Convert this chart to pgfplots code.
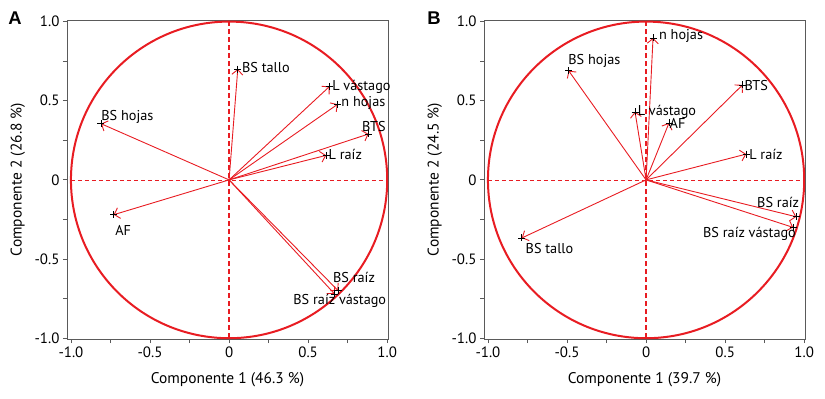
\documentclass[border=0pt]{standalone}
\usepackage{fontspec}
\setmainfont{PT Sans}
\newfontfamily\letterfont{Liberation Sans}
\usepackage{pgfplots}
\pgfplotsset{compat=1.18}
\usetikzlibrary{arrows.meta}
\definecolor{pcared}{RGB}{232,28,34}
\definecolor{framegray}{RGB}{90,90,90}
\tikzset{
  arr/.style={pcared, line width=0.9bp, -{Straight Barb[length=5bp,width=11bp,line width=0.9bp]}},
  lab/.style={font=\fontsize{14.3}{16}\selectfont, inner sep=1bp},
}
\pgfplotsset{
  pca/.style={
    scale only axis, width=321bp, height=319bp,
    xmin=-1.025, xmax=1.005, ymin=-1.005, ymax=1.01,
    clip=false,
    axis line style={framegray, line width=0.8bp},
    xtick={-1,-0.5,0,0.5,1}, ytick={-1,-0.5,0,0.5,1},
    xticklabels={-1.0,-0.5,0,0.5,1.0}, yticklabels={-1.0,-0.5,0,0.5,1.0},
    minor xtick={-0.75,-0.25,0.25,0.75}, minor ytick={-0.75,-0.25,0.25,0.75},
    xtick pos=bottom, ytick pos=left, tick align=outside,
    major tick length=4bp, minor tick length=4bp,
    every tick/.style={framegray, line width=0.8bp},
    tick label style={font=\fontsize{15}{18}\selectfont, black},
    label style={font=\fontsize{15.5}{18}\selectfont, black},
    xlabel style={at={(axis description cs:0.5,-0.129)}, anchor=center},
    ylabel style={at={(axis description cs:-0.153,0.5)}, anchor=center},
  }
}
\begin{document}
\begin{tikzpicture}
\path[use as bounding box] (-67bp,-60bp) rectangle (758bp,339bp);
% ---------------- Panel A ----------------
\begin{axis}[pca, at={(0bp,0bp)}, anchor=south west,
  xlabel={Componente 1 (46.3 \%)}, ylabel={Componente 2 (26.8 \%)}]
\draw[pcared, line width=2bp] (axis cs:0,0) ellipse [x radius=1, y radius=1];
\addplot[pcared, line width=1.6bp, dash pattern=on 5bp off 3bp] coordinates {(0,-1) (0,1)};
\addplot[pcared, line width=0.7bp, dash pattern=on 4bp off 3bp] coordinates {(-1,0) (1,0)};
\addplot[arr] coordinates {(0,0) (0.055,0.70)};
\addplot[arr] coordinates {(0,0) (0.635,0.59)};
\addplot[arr] coordinates {(0,0) (0.687,0.478)};
\addplot[arr] coordinates {(0,0) (0.882,0.29)};
\addplot[arr] coordinates {(0,0) (0.614,0.155)};
\addplot[arr] coordinates {(0,0) (-0.81,0.355)};
\addplot[arr] coordinates {(0,0) (-0.73,-0.22)};
\addplot[arr] coordinates {(0,0) (0.69,-0.70)};
\addplot[arr] coordinates {(0,0) (0.667,-0.72)};
\addplot[only marks, mark=+, black, mark size=3.5bp, mark options={line width=0.6bp}] coordinates {
  (0.055,0.70) (0.635,0.59) (0.687,0.478) (0.882,0.29) (0.614,0.155)
  (-0.81,0.355) (-0.73,-0.22) (0.69,-0.70) (0.667,-0.72)};
\node[lab, anchor=west] at (axis cs:0.075,0.71) {BS tallo};
\node[lab, anchor=west] at (axis cs:0.645,0.59) {L vástago};
\node[lab, anchor=west] at (axis cs:0.703,0.488) {n hojas};
\node[lab] at (axis cs:0.916,0.337) {BTS};
\node[lab, anchor=west] at (axis cs:0.622,0.163) {L raíz};
\node[lab, anchor=west] at (axis cs:-0.815,0.40) {BS hojas};
\node[lab] at (axis cs:-0.67,-0.32) {AF};
\node[lab] at (axis cs:0.79,-0.617) {BS raíz};
\node[lab] at (axis cs:0.70,-0.763) {BS raíz vástago};
\node[font=\letterfont\fontsize{18.5}{20}\selectfont\bfseries, xshift=-56bp, yshift=3.7bp] at (axis cs:-1.0,1.0) {A};
\end{axis}
% ---------------- Panel B ----------------
\begin{axis}[pca, at={(417bp,0bp)}, anchor=south west,
  xlabel={Componente 1 (39.7 \%)}, ylabel={Componente 2 (24.5 \%)}]
\draw[pcared, line width=2bp] (axis cs:0,0) ellipse [x radius=1, y radius=1];
\addplot[pcared, line width=1.6bp, dash pattern=on 5bp off 3bp] coordinates {(0,-1) (0,1)};
\addplot[pcared, line width=0.7bp, dash pattern=on 4bp off 3bp] coordinates {(-1,0) (1,0)};
\addplot[arr] coordinates {(0,0) (0.044,0.897)};
\addplot[arr] coordinates {(0,0) (-0.49,0.69)};
\addplot[arr] coordinates {(0,0) (0.61,0.60)};
\addplot[arr] coordinates {(0,0) (-0.07,0.43)};
\addplot[arr] coordinates {(0,0) (0.145,0.36)};
\addplot[arr] coordinates {(0,0) (0.633,0.163)};
\addplot[arr] coordinates {(0,0) (0.95,-0.233)};
\addplot[arr] coordinates {(0,0) (0.93,-0.30)};
\addplot[arr] coordinates {(0,0) (-0.786,-0.367)};
\addplot[only marks, mark=+, black, mark size=3.5bp, mark options={line width=0.6bp}] coordinates {
  (0.044,0.897) (-0.49,0.69) (0.61,0.60) (-0.07,0.43) (0.145,0.36)
  (0.633,0.163) (0.95,-0.233) (0.93,-0.30) (-0.786,-0.367)};
\node[lab, anchor=west] at (axis cs:0.075,0.907) {n hojas};
\node[lab] at (axis cs:-0.327,0.75) {BS hojas};
\node[lab, anchor=west] at (axis cs:0.615,0.595) {BTS};
\node[lab, anchor=west] at (axis cs:-0.06,0.43) {L vástago};
\node[lab, anchor=west] at (axis cs:0.142,0.358) {AF};
\node[lab, anchor=west] at (axis cs:0.645,0.163) {L raíz};
\node[lab] at (axis cs:0.835,-0.145) {BS raíz};
\node[lab] at (axis cs:0.654,-0.344) {BS raíz vástago};
\node[lab] at (axis cs:-0.611,-0.434) {BS tallo};
\node[font=\letterfont\fontsize{18.5}{20}\selectfont\bfseries, xshift=-54bp, yshift=3.7bp] at (axis cs:-1.0,1.0) {B};
\end{axis}
\end{tikzpicture}
\end{document}
